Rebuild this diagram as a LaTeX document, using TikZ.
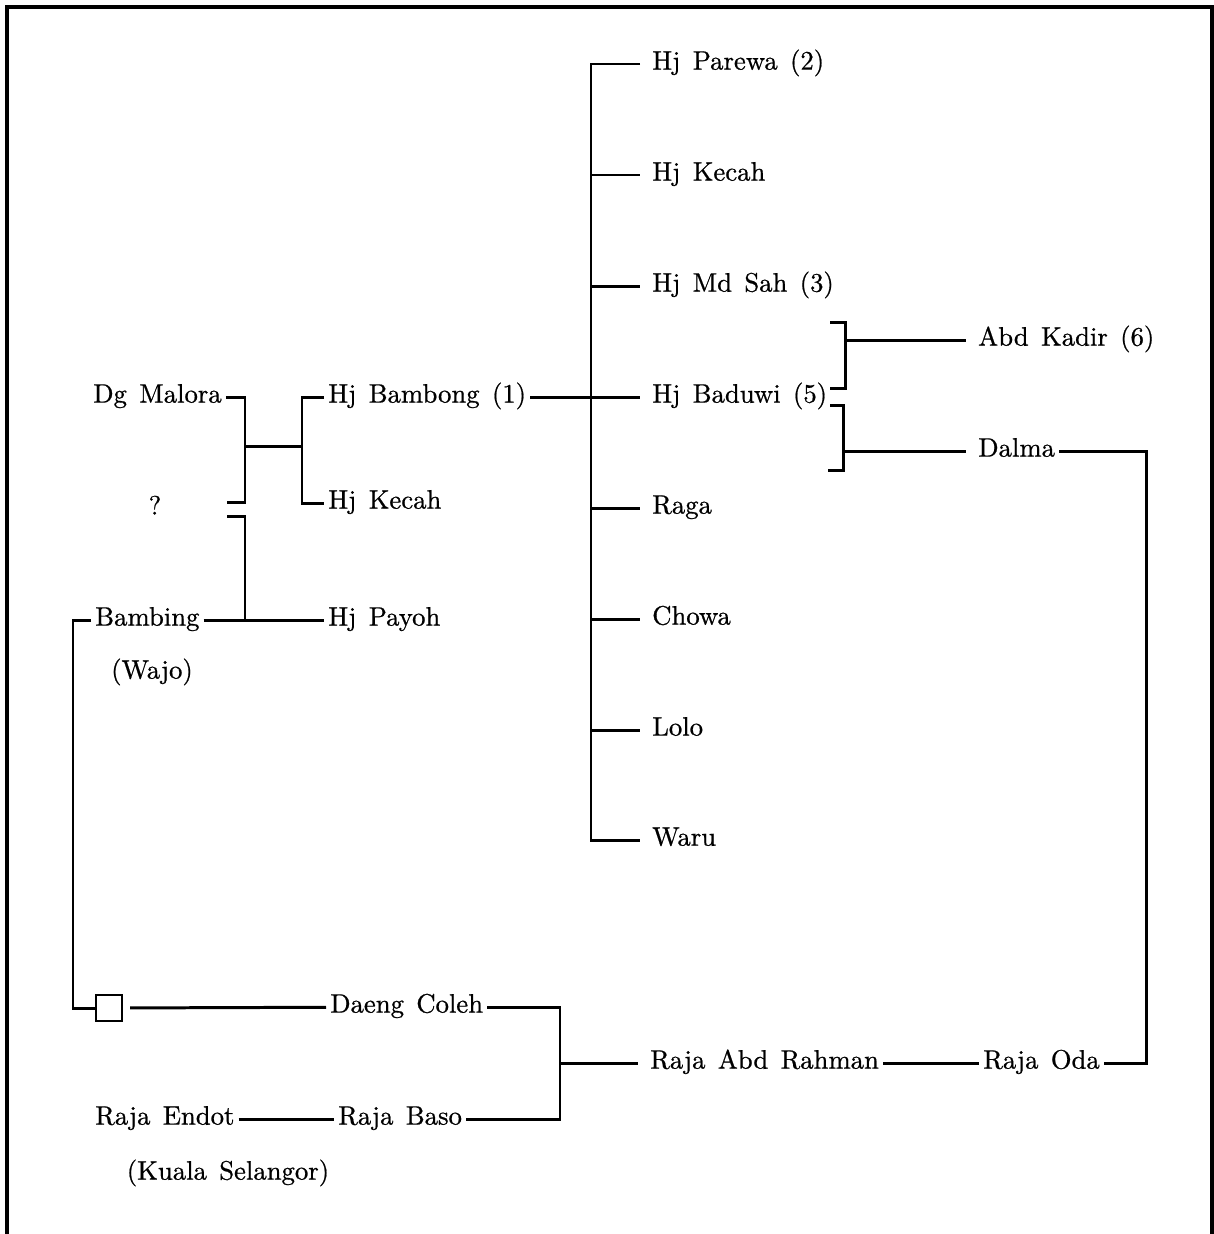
\documentclass[tikz,border=0pt]{standalone}
\usepackage{fontspec}
\usepackage{tikz}
\usetikzlibrary{calc, positioning}
\newfontfamily\genfam{lmroman10-regular.otf}[FakeBold=0.7]
\newcommand\genfont{\genfam\fontsize{7.6}{8}\selectfont\spaceskip=3.5pt plus 1pt minus 1pt}

\begin{document}
\begin{tikzpicture}[
  x=0.1mm, y=-0.1mm,
  %% Nombres de la genealogía: la línea sale a media altura del texto
  pers/.style={anchor=west, inner xsep=1pt, inner ysep=0pt,
               text height=5.2pt, text depth=2pt, font=\genfont},
  note/.style={pers, anchor=center},
  lin/.style={line width=0.85pt},
  tic/.style={lin, shorten >=0.8mm},
  frame/.style={line width=1.1pt}
]
\useasboundingbox (0,0) rectangle (1214,1234);
\draw[frame] (7,1234) |- (1212,7) -- (1212,1234);

%% ── Columna izquierda ────────────────────────────────────────────────────
\node[pers] (malora)  at (89,397)  {Dg Malora};
\node[note] (unknown) at (155,509) {?};
\node[pers] (bambing) at (91,620)  {Bambing};
\node[note] (wajo)    at (152,673) {(Wajo)};
\node[draw, line width=0.6pt, minimum size=2.6mm, inner sep=0pt] (box) at (109,1008) {};
\node[pers] (endot)   at (91,1119) {Raja Endot};
\node[note] (selangor) at (228,1174) {(Kuala Selangor)};

%% ── Segunda columna ──────────────────────────────────────────────────────
\node[pers] (bambong) at (324,397)  {Hj Bambong (1)};
\node[pers] (kecahA)  at (324,503)  {Hj Kecah};
\node[pers] (payoh)   at (324,620)  {Hj Payoh};
\node[pers] (coleh)   at (326,1007) {Daeng Coleh};
\node[pers] (baso)    at (334,1119) {Raja Baso};

%% ── Hijos de Hj Bambong ──────────────────────────────────────────────────
\node[pers] (parewa) at (648,64)  {Hj Parewa (2)};
\node[pers] (kecahB) at (648,175) {Hj Kecah};
\node[pers] (mdsah)  at (648,286) {Hj Md Sah (3)};
\node[pers] (baduwi) at (648,397) {Hj Baduwi (5)};
\node[pers] (raga)   at (648,508) {Raga};
\node[pers] (chowa)  at (648,619) {Chowa};
\node[pers] (lolo)   at (648,730) {Lolo};
\node[pers] (waru)   at (648,840) {Waru};

%% ── Columna derecha ──────────────────────────────────────────────────────
\node[pers] (kadir)  at (974,340)  {Abd Kadir (6)};
\node[pers] (dalma)  at (974,451)  {Dalma};
\node[pers] (rahman) at (646,1063) {Raja Abd Rahman};
\node[pers] (oda)    at (979,1063) {Raja Oda};

%% ── Puntos de quiebre ────────────────────────────────────────────────────
\coordinate (ml) at (245,502);
\coordinate (mb) at (245,516);
\coordinate (cb) at (302,446);
\coordinate (sib) at (591,397);
\coordinate (bk1) at (845,322);
\coordinate (bk2) at (845,388);
\coordinate (bk3) at (843,405);
\coordinate (bk4) at (843,470);
\coordinate (rt) at (1146,750);
\coordinate (cj) at (560,1063);
\coordinate (lb) at (73,800);

%% ── Matrimonios y descendencia (izquierda) ───────────────────────────────
\draw[lin] (malora.east) -| (ml) -- ++(-18,0);
\draw[lin] (mb) ++(-18,0) -- (mb) -- (mb |- payoh.west);
\draw[lin] (bambing) -- (payoh);
\draw[lin] (ml |- cb) -- (cb);
\draw[lin] (bambong.west) -| (cb) |- (kecahA.west);
\draw[lin] (bambing.west) -| (lb) |- (box.west);
\draw[lin, shorten <=0.7mm] (box) -- (coleh);
\draw[lin] (endot) -- (baso);

%% ── Hermanos ─────────────────────────────────────────────────────────────
\draw[tic] (bambong) -- (baduwi);
\draw[tic, shorten <=0.8mm] (parewa.west) -| (sib) |- (waru.west);
\foreach \n in {kecahB, mdsah, raga, chowa, lolo}
  \draw[tic] (\n.west -| sib) -- (\n.west);

%% ── Hj Baduwi ────────────────────────────────────────────────────────────
\draw[lin] (bk1) ++(-15,0) -- (bk1) -- (bk2) -- ++(-15,0);
\draw[lin] (bk3) ++(-13,0) -- (bk3) -- (bk4) -- ++(-15,0);
\draw[tic] (kadir.west -| bk1) -- (kadir.west);
\draw[tic] (dalma.west -| bk3) -- (dalma.west);

%% ── Raja Abd Rahman ──────────────────────────────────────────────────────
\draw[lin] (coleh.east) -| (cj) |- (baso.east);
\draw[tic] (cj) -- (rahman.west);
\draw[lin] (rahman) -- (oda);
\draw[lin] (dalma.east) -| (rt) |- (oda.east);

\end{tikzpicture}
\end{document}
